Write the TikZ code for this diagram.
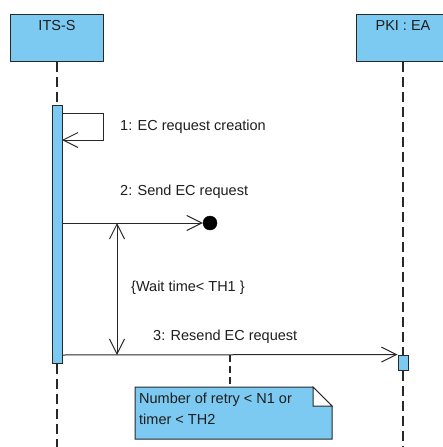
\documentclass[tikz,border=0pt]{standalone}
\usepackage{fontspec}
\setmainfont{Liberation Sans}
\usetikzlibrary{arrows.meta}
\definecolor{umlblue}{RGB}{124,202,241}
\definecolor{umlline}{RGB}{40,40,40}
\definecolor{umltext}{RGB}{30,30,30}
\begin{document}
\begin{tikzpicture}[x=1pt,y=-1pt,
  font=\fontsize{14.5}{17}\selectfont,
  every node/.style={text=umltext},
  head/.style={draw=umlline,fill=umlblue,line width=1.1pt,minimum width=93pt,
     text height=10pt,text depth=25pt,inner ysep=6pt,inner xsep=0pt,anchor=north},
  actbar/.style={draw=umlline,fill=umlblue,line width=1pt,minimum width=10pt,inner sep=0pt},
  lifeline/.style={draw=umlline,line width=1.1pt,dash pattern=on 10pt off 5pt},
  msg/.style={draw=umlline,line width=1pt,-{Straight Barb[length=15pt,width=15pt,line width=1pt]}},
  dur/.style={draw=umlline,line width=1pt,{Straight Barb[length=15pt,width=15pt,line width=1pt]}-{Straight Barb[length=15pt,width=15pt,line width=1pt]}},
  lbl/.style={anchor=west,inner sep=0pt}]
\clip (0,0) rectangle (443,447);
\fill[white] (0,0) rectangle (443,447);

% heads
\node[head] (its) at (57,14) {ITS-S};
\node[head] (pki) at (403,14) {PKI : EA};

% activation bars
\node[actbar,minimum height=258pt] (bar1) at (57,234) {};
\node[actbar,minimum height=15pt] (bar2) at (403,362.5) {};

% lifeline ends
\coordinate (itsend) at (57,447);
\coordinate (pkiend) at (403,447);
\draw[lifeline] (its.south) -- (bar1.north);
\draw[lifeline] (bar1.south) -- (itsend);
\draw[lifeline] (pki.south) -- (bar2.north);
\draw[lifeline] (bar2.south) -- (pkiend);

% message 1 (self)
\coordinate (m1a) at (62,113);
\coordinate (m1b) at (103,113);
\coordinate (m1c) at (103,140);
\coordinate (m1d) at (62,140);
\draw[msg] (m1a) -- (m1b) -- (m1c) -- (m1d);
\node[lbl] (l1) at (120,127) {1: EC request creation};

% message 2 (lost)
\node[circle,fill=black,draw=black,minimum size=14pt,inner sep=0pt] (lost) at (210,223) {};
\coordinate (m2a) at (62,223);
\draw[msg] (m2a) -- (lost.west);
\node[lbl] (l2) at (120,192) {2: Send EC request};

% duration constraint
\coordinate (d1) at (117,223);
\coordinate (d2) at (117,355);
\draw[dur] (d1) -- (d2);
\node[lbl] (l4) at (131,288) {\{Wait time< TH1 \}};

% message 3
\coordinate (m3a) at (62,355);
\draw[msg] (m3a) -- (bar2.north west);
\node[lbl] (l3) at (153,337) {3: Resend EC request};

% note
\coordinate (na) at (230,355);
\coordinate (nb) at (230,387);
\draw[lifeline,dash pattern=on 7pt off 4pt] (na) -- (nb);
\draw[draw=umlline,fill=umlblue,line width=1pt]
  (135,387) -- (313,387) -- (332,406) -- (332,439) -- (135,439) -- cycle;
\draw[draw=umlline,fill=white,line width=1pt]
  (313,387) -- (313,406) -- (332,406) -- cycle;
\node[lbl,anchor=north west,align=left,font=\fontsize{14.5}{21}\selectfont] (note) at (139,393)
  {Number of retry < N1 or\\timer < TH2};
\end{tikzpicture}
\end{document}
